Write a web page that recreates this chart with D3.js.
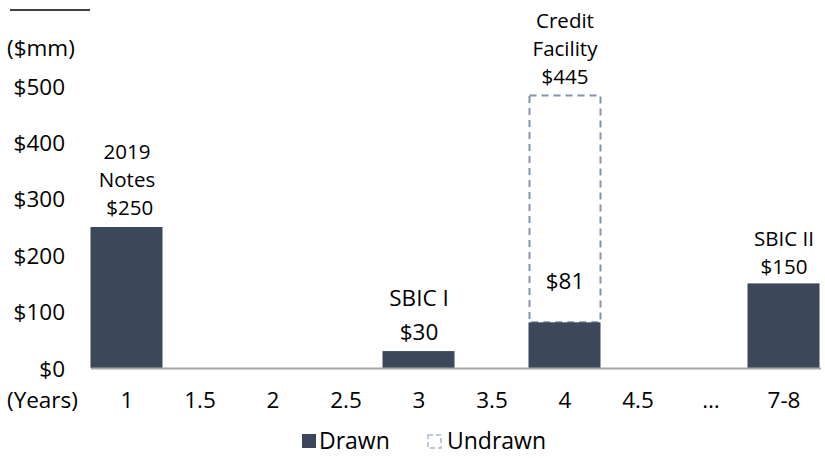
<!DOCTYPE html>
<html><head><meta charset="utf-8">
<script src="https://cdn.jsdelivr.net/npm/d3@7"></script>
<style>
html,body{margin:0;padding:0;background:#fff;}
text{font-family:"Open Sans","Noto Sans",sans-serif;fill:#000;}
</style></head>
<body><svg id="c" width="825" height="458"></svg>
<script>
const categories = ["1","1.5","2","2.5","3","3.5","4","4.5","…","7-8"];
const drawn = [250,0,0,0,30,0,81,0,0,150];
const undrawn = [0,0,0,0,0,0,402,0,0,0];
const yTicks = [0,100,200,300,400,500];
const barLabels = [["2019","Notes"," $250"],[],[],[],["SBIC I"],[],["Credit","Facility","$445"],[],[],["SBIC II","$150"]];
const innerLabels = [null,null,null,null,"$30",null,"$81",null,null,null];

const svg = d3.select("#c");
const fs = 22.5;
const lfs = 20.5;
const ff = "'Open Sans','Noto Sans',sans-serif";
const x = d3.scaleBand().domain(categories).range([90.5,820.5]).padding(0);
const y = d3.scaleLinear().domain([0,500]).range([368,86]);
const dark = "#3c4859", dash = "#8193ae";

// top rule
svg.append("line").attr("x1",10).attr("x2",90).attr("y1",10).attr("y2",10).attr("stroke","#000").attr("stroke-width",1.3);
svg.append("text").attr("x",7).attr("y",56).attr("font-size",fs).text("($mm)");

// y tick labels
const ya = svg.append("g").attr("transform","translate(65,0)").call(d3.axisLeft(y).tickValues(yTicks).tickSize(0).tickPadding(0).tickFormat(d=>"$"+d));
ya.select(".domain").remove();
ya.selectAll("text").attr("font-size",fs).attr("font-family",ff).attr("fill","#000").attr("dy","0.36em");

// bars
const g = svg.append("g");
categories.forEach((c,i)=>{
  if(undrawn[i]>0){
    g.append("rect").attr("x",x(c)+1).attr("width",x.bandwidth()-2)
     .attr("y",y(drawn[i]+undrawn[i])).attr("height",y(drawn[i])-y(drawn[i]+undrawn[i]))
     .attr("fill","none").attr("stroke",dash).attr("stroke-width",2).attr("stroke-dasharray","7,5");
  }
  if(drawn[i]>0){
    g.append("rect").attr("x",x(c)).attr("width",x.bandwidth()-1)
     .attr("y",y(drawn[i])).attr("height",y(0)-y(drawn[i])).attr("fill",dark);
  }
});

// x axis
const xa = svg.append("g").attr("transform","translate(0,368)").call(d3.axisBottom(x).tickSize(0).tickPadding(0));
xa.select(".domain").attr("stroke","#a6a6a6").attr("stroke-width",2);
xa.selectAll("text").attr("font-size",fs).attr("font-family",ff).attr("fill","#000").attr("dy",null).attr("y",40);
svg.append("text").attr("x",7).attr("y",408).attr("font-size",fs).text("(Years)");

// labels above
const lh = 28;
categories.forEach((c,i)=>{
  const lines = barLabels[i];
  if(!lines.length) return;
  const top = y(drawn[i]+undrawn[i]);
  const cx = x(c)+x.bandwidth()/2;
  const gap = (i===4) ? 45 : (i===9 ? 9.5 : 12);
  const t = svg.append("text").attr("text-anchor","middle").attr("font-size",lines.length>1?lfs:fs).attr("xml:space","preserve");
  lines.forEach((l,k)=>{
    t.append("tspan").attr("x",cx).attr("y", top - gap - (lines.length-1-k)*lh).text(l);
  });
  if(innerLabels[i]){
    const yy = (i===4) ? top-11 : y(drawn[i]) - 33;
    svg.append("text").attr("x",cx).attr("text-anchor","middle").attr("font-size",fs).attr("y",yy).text(innerLabels[i]);
  }
});

// legend
const lg = svg.append("g");
lg.append("rect").attr("x",302).attr("y",434).attr("width",14).attr("height",14).attr("fill",dark);
lg.append("text").attr("x",319).attr("y",449).attr("font-size",23).text("Drawn");
lg.append("rect").attr("x",428).attr("y",435).attr("width",13).attr("height",13).attr("fill","none")
  .attr("stroke","#a9b8cc").attr("stroke-width",1.5).attr("stroke-dasharray","5,3");
lg.append("text").attr("x",447).attr("y",449).attr("font-size",23).text("Undrawn");
</script></body></html>
